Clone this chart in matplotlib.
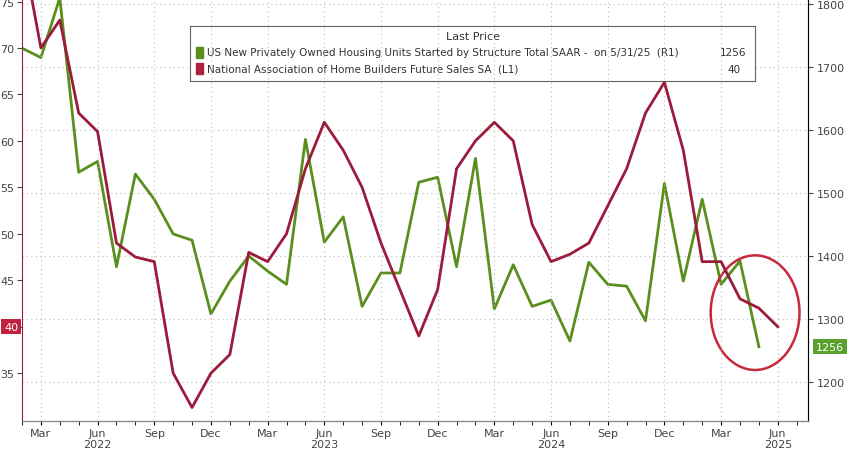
import matplotlib
matplotlib.use("Agg")
import matplotlib.pyplot as plt
from matplotlib.patches import Ellipse
import numpy as np

# months from Feb 2022 (index -1 = Feb 2022, 0 = Mar 2022)
nahb = [81, 70, 73, 63, 61, 49, 47.5, 47, 35, 31.3, 35, 37, 48, 47, 50, 57, 62, 59, 55, 49, 44, 39, 44,
        57, 60, 62, 60, 51, 47, 47.8, 49, 53, 57, 63, 66.3, 59, 47, 47, 43, 42, 40]
starts = [1730, 1715, 1810, 1533, 1550, 1383, 1530, 1490, 1435, 1425, 1308, 1360, 1400, 1376, 1355, 1585,
          1422, 1462, 1320, 1373, 1373, 1517, 1525, 1383, 1555, 1316, 1386, 1320, 1330, 1265, 1390, 1355,
          1352, 1297, 1515, 1360, 1490, 1355, 1392, 1256]
month_names = ["Mar", "Jun", "Sep", "Dec"]
years = ["2022", "2023", "2024", "2025"]
left_ticks = [35, 40, 45, 50, 55, 60, 65, 70, 75]
right_ticks = [1200, 1300, 1400, 1500, 1600, 1700, 1800]

GREEN = "#5a8f1e"
RED = "#9b1b3a"

fig = plt.figure(figsize=(8.48, 4.52), dpi=100)
ax = fig.add_axes([22/848, 30/452, 786/848, 422/452])
ax2 = ax.twinx()

xr = np.arange(len(nahb)) - 1
xg = np.arange(len(starts)) - 1
ax.plot(xr, nahb, color=RED, lw=2, zorder=3)
ax2.plot(xg, starts, color=GREEN, lw=2, zorder=2)
ax.set_zorder(ax2.get_zorder() + 1)
ax.patch.set_visible(False)

ax.set_xlim(-0.8, 40.6)
ax.set_ylim(29.85, 75.27)
ax2.set_ylim(1138, 1808)

ax.set_yticks(left_ticks)
ax.set_yticklabels(["" if t == 40 else str(t) for t in left_ticks])
ax2.set_yticks(right_ticks)
ax2.set_yticklabels([str(t) for t in right_ticks])
ax.tick_params(axis="y", labelsize=8, colors="#444444", direction="out", pad=2)
ax2.tick_params(axis="y", labelsize=8, colors="#444444", pad=3)

major = list(range(0, 40, 3))
ax.set_xticks(major)
ax.set_xticklabels([month_names[(i // 3) % 4] for i in major], fontsize=8, color="#444444")
ax.set_xticks(range(-1, 41), minor=True)
ax.tick_params(axis="x", which="both", direction="out", length=3, pad=2)
for i, y in enumerate(years):
    ax.text(3 + 12 * i, -0.043, y, transform=ax.get_xaxis_transform(), ha="center", va="top",
            fontsize=8, color="#444444")

for xv in major:
    ax.axvline(xv, color="#bbbbbb", ls=(0, (1, 3)), lw=0.8, zorder=0)
for yv in right_ticks:
    ax2.axhline(yv, color="#bbbbbb", ls=(0, (1, 3)), lw=0.8, zorder=0)

for side in ["top"]:
    ax.spines[side].set_visible(False)
    ax2.spines[side].set_visible(False)
ax.spines["left"].set_color(RED)
ax2.spines["right"].set_color(GREEN)
ax2.spines["left"].set_visible(False)
ax.spines["bottom"].set_color("#888888")

# last value tags
ax.text(-0.005, 40, "40", transform=ax.get_yaxis_transform(), ha="right", va="center", fontsize=8,
        color="white", bbox=dict(boxstyle="square,pad=0.25", fc="#c0213f", ec="none"))
ax2.text(1.01, 1256, "1256", transform=ax2.get_yaxis_transform(), ha="left", va="center", fontsize=8,
         color="white", bbox=dict(boxstyle="square,pad=0.25", fc="#5aa02c", ec="none"))

# circle annotation
ax2.add_patch(Ellipse((37.8, 1310), 4.7, 182, fill=False, ec="#c8283c", lw=1.8, zorder=5))

# legend box
lg = fig.add_axes([190/848, 1 - 82/452, 565/848, 55/452])
lg.set_xticks([]); lg.set_yticks([])
for s in lg.spines.values():
    s.set_color("#666666")
lg.text(0.5, 0.82, "Last Price", ha="center", va="center", fontsize=8, color="#333333")
lg.add_patch(plt.Rectangle((0.01, 0.42), 0.013, 0.2, color=GREEN, transform=lg.transAxes))
lg.add_patch(plt.Rectangle((0.01, 0.12), 0.013, 0.2, color="#b0203e", transform=lg.transAxes))
lg.text(0.03, 0.52, "US New Privately Owned Housing Units Started by Structure Total SAAR -  on 5/31/25  (R1)",
        fontsize=7.5, va="center", color="#333333")
lg.text(0.03, 0.22, "National Association of Home Builders Future Sales SA  (L1)", fontsize=7.5,
        va="center", color="#333333")
lg.text(0.985, 0.52, "1256", fontsize=7.5, va="center", ha="right", color="#333333")
lg.text(0.975, 0.22, "40", fontsize=7.5, va="center", ha="right", color="#333333")

fig.savefig("out.png", dpi=100)
